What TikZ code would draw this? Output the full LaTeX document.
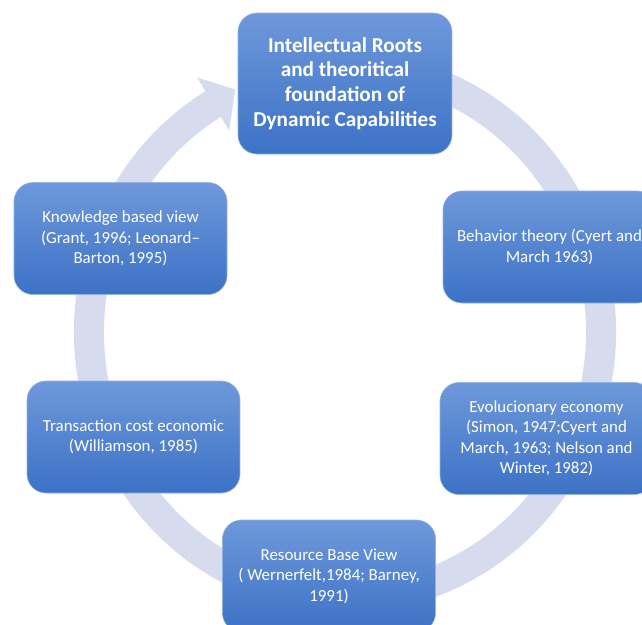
\documentclass[tikz,border=0pt]{standalone}
\usepackage{fontspec}
\setmainfont{Carlito}
\usetikzlibrary{calc}
\definecolor{ringcol}{RGB}{214,220,238}
\definecolor{boxtop}{RGB}{110,152,218}
\definecolor{boxbot}{RGB}{60,114,198}
\definecolor{boxrim}{RGB}{150,178,228}
\begin{document}
\begin{tikzpicture}[x=1pt,y=1pt,
  cyclebox/.style={rectangle, rounded corners=19pt, top color=boxtop, bottom color=boxbot,
    draw=boxrim, line width=0.6pt, minimum width=213pt, minimum height=112pt,
    text=white, align=center, inner sep=0pt, font=\fontsize{16.9}{20.5}\selectfont},
  titlebox/.style={cyclebox, minimum width=214pt, minimum height=141pt,
    font=\fontsize{21.2}{24.6}\selectfont\bfseries}]
\useasboundingbox (0,0) rectangle (642,-624);
\fill[white] (0,0) rectangle (642,-624);
\begin{scope}
\clip (0,0) rectangle (642,-624);
\coordinate (C) at (345,-332);
% continuous cycle arrow running clockwise behind the boxes
\fill[ringcol]
  ([shift={(C)}]72:271pt and 281pt)
  arc[start angle=72, end angle=-239, x radius=271pt, y radius=281pt]
  -- ([shift={(C)}]121:287pt and 297pt)
  -- ([shift={(C)}]115.2:258pt and 268pt)
  -- ([shift={(C)}]121:225pt and 235pt)
  -- ([shift={(C)}]121:241pt and 251pt)
  arc[start angle=121, end angle=432, x radius=241pt, y radius=251pt]
  -- cycle;
% boxes
\node[titlebox] (root) at (345,-83.5) {Intellectual Roots\\and theoritical\\foundation of\\Dynamic Capabilities};
\node[cyclebox] (beh) at (549.5,-247) {Behavior theory (Cyert and\\March 1963)};
\node[cyclebox] (evo) at (546.5,-438.5) {Evolucionary economy\\(Simon, 1947;Cyert and\\March, 1963; Nelson and\\Winter, 1982)};
\node[cyclebox] (rbv) at (329,-576) {Resource Base View\\( Wernerfelt,1984; Barney,\\1991)};
\node[cyclebox] (tce) at (133.5,-437) {Transaction cost economic\\(Williamson, 1985)};
\node[cyclebox] (kbv) at (120.5,-238.5) {Knowledge based view\\(Grant, 1996; Leonard–\\Barton, 1995)};
\end{scope}
\end{tikzpicture}
\end{document}
